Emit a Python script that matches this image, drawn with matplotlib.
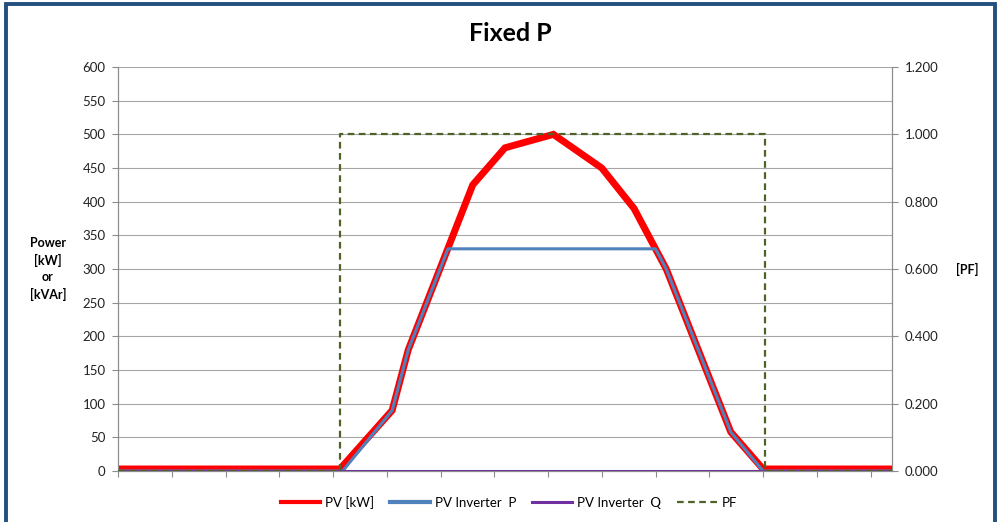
import numpy as np
import matplotlib.pyplot as plt
from matplotlib.lines import Line2D
from matplotlib.patches import Rectangle

plt.rcParams['font.family'] = ['Lato', 'DejaVu Sans']

# x is in 10-minute steps over the day (0 = 00:00, 144 = 24:00)
pv_x = [0, 41.3, 51, 54, 66, 72, 81, 90, 96, 102, 114, 120, 144]
pv_kw = [3, 3, 90, 180, 425, 480, 500, 450, 390, 300, 58, 3, 3]

inv_p_x = [0, 41.8, 51, 54, 61.4, 100, 102, 114, 120, 144]
inv_p_kw = [0, 0, 90, 180, 330, 330, 300, 58, 0, 0]

inv_q_x = [0, 144]
inv_q_kvar = [0, 0]

pf_x = [0, 41.3, 41.3, 120.3, 120.3, 144]
pf_val = [0, 0, 1, 1, 0, 0]

left_ticks = np.arange(0, 601, 50)
right_ticks = np.arange(0, 1.21, 0.2)

c_pv = '#ff0000'
c_p = '#4f81bd'
c_q = '#7030a0'
c_pf = '#4f6228'
c_axis = '#8c8c8c'

fig = plt.figure(figsize=(10, 5.22), dpi=100)
ax = fig.add_axes([0.118, 0.0977, 0.774, 0.7739])
ax2 = ax.twinx()

ax.plot(pv_x, pv_kw, color=c_pv, lw=5, solid_joinstyle='miter', zorder=3)
ax.plot(inv_p_x, inv_p_kw, color=c_p, lw=2.2, zorder=4)
ax.plot(inv_q_x, inv_q_kvar, color=c_q, lw=1.5, zorder=5)
ax2.plot(pf_x, pf_val, color=c_pf, lw=1.6, ls=(0, (3, 2)), zorder=6)

ax.set_xlim(0, 144)
ax.set_ylim(0, 600)
ax2.set_ylim(0, 1.2)
ax.set_xticks(np.arange(0, 141, 10))
ax.set_xticklabels([])
ax.set_yticks(left_ticks)
ax.set_yticklabels([str(v) for v in left_ticks])
ax2.set_yticks(right_ticks)
ax2.set_yticklabels(['%.3f' % v for v in right_ticks])

ax.grid(axis='y', color='#a6a6a6', lw=0.8)
ax.set_axisbelow(True)

for a in (ax, ax2):
    a.spines['top'].set_visible(False)
    for s in ('left', 'right', 'bottom'):
        a.spines[s].set_color(c_axis)
        a.spines[s].set_linewidth(0.8)
    a.tick_params(colors=c_axis, labelcolor='#222222', labelsize=9.5,
                  length=4, width=0.8)
ax.tick_params(axis='y', pad=5)
ax2.tick_params(axis='y', pad=5)

fig.text(0.510, 0.935, 'Fixed P', ha='center', va='center',
         fontsize=18, fontweight='bold')
fig.text(0.048, 0.485, 'Power\n[kW]\nor\n[kVAr]', ha='center', va='center',
         fontsize=9, fontweight='bold', linespacing=1.45)
fig.text(0.967, 0.483, '[PF]', ha='center', va='center',
         fontsize=9, fontweight='bold')

handles = [
    Line2D([], [], color=c_pv, lw=3),
    Line2D([], [], color=c_p, lw=3),
    Line2D([], [], color=c_q, lw=2.2),
    Line2D([], [], color=c_pf, lw=1.6, ls=(0, (3, 2))),
]
labels = ['PV [kW]', 'PV Inverter  P', 'PV Inverter  Q', 'PF']
fig.legend(handles, labels, loc='center', bbox_to_anchor=(0.509, 0.038),
           ncol=4, frameon=False, fontsize=9.5, handlelength=3.0,
           handletextpad=0.4, columnspacing=1.2)

fig.patches.append(Rectangle((0.006, -0.05), 0.989, 1.042,
                             transform=fig.transFigure, fill=False,
                             edgecolor='#24507f', lw=2.8))

fig.savefig('out.png', dpi=100)
